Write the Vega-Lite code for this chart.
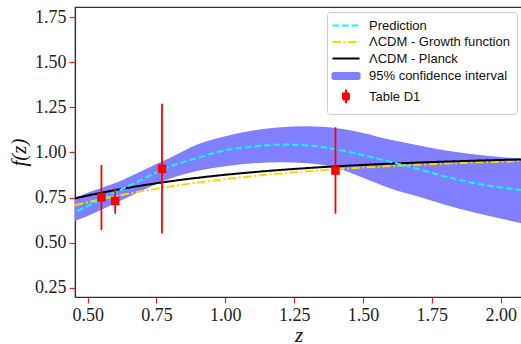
{
  "$schema": "https://vega.github.io/schema/vega-lite/v6.json",
  "width": 447,
  "height": 290,
  "autosize": {"type": "none"},
  "padding": {"left": 75, "top": 7, "right": 0, "bottom": 47},
  "config": {
    "view": {"stroke": "#333333", "strokeWidth": 1.2},
    "axis": {
      "grid": false,
      "domainColor": "#333333",
      "domainWidth": 1.2,
      "tickColor": "#ee2222",
      "tickSize": 6,
      "tickWidth": 1.2,
      "labelFont": "Liberation Serif",
      "labelFontSize": 18,
      "labelColor": "#222222",
      "labelPadding": 3,
      "titleFont": "Liberation Serif",
      "titleFontStyle": "italic",
      "titleFontWeight": "normal",
      "titleFontSize": 21,
      "titleColor": "#111111",
      "zindex": 1
    },
    "legend": {
      "title": null,
      "orient": "top-right",
      "offset": 5,
      "padding": 7,
      "fillColor": "white",
      "strokeColor": "#cccccc",
      "cornerRadius": 3,
      "labelFont": "Liberation Sans",
      "labelFontSize": 13,
      "labelColor": "#111111",
      "symbolSize": 100,
      "symbolStrokeWidth": 2,
      "symbolOpacity": 1,
      "symbolOffset": 5.5,
      "labelOffset": 16.5,
      "rowPadding": 2.5
    }
  },
  "datasets": {
    "curves": [
      {"z": 0.40, "pred": 0.628, "lo": 0.585, "hi": 0.722, "planck": 0.7254, "growth": 0.6858},
      {"z": 0.45, "pred": 0.666, "lo": 0.617, "hi": 0.747, "planck": 0.7437, "growth": 0.7053},
      {"z": 0.50, "pred": 0.703, "lo": 0.648, "hi": 0.776, "planck": 0.7607, "growth": 0.7235},
      {"z": 0.60, "pred": 0.778, "lo": 0.718, "hi": 0.830, "planck": 0.7912, "growth": 0.7567},
      {"z": 0.70, "pred": 0.852, "lo": 0.790, "hi": 0.900, "planck": 0.8174, "growth": 0.7857},
      {"z": 0.80, "pred": 0.922, "lo": 0.855, "hi": 0.970, "planck": 0.8400, "growth": 0.8110},
      {"z": 0.90, "pred": 0.970, "lo": 0.898, "hi": 1.045, "planck": 0.8595, "growth": 0.8329},
      {"z": 1.00, "pred": 1.012, "lo": 0.924, "hi": 1.090, "planck": 0.8762, "growth": 0.8520},
      {"z": 1.10, "pred": 1.032, "lo": 0.940, "hi": 1.122, "planck": 0.8904, "growth": 0.8686},
      {"z": 1.20, "pred": 1.044, "lo": 0.946, "hi": 1.140, "planck": 0.9029, "growth": 0.8830},
      {"z": 1.30, "pred": 1.039, "lo": 0.940, "hi": 1.145, "planck": 0.9136, "growth": 0.8955},
      {"z": 1.40, "pred": 1.018, "lo": 0.915, "hi": 1.135, "planck": 0.9228, "growth": 0.9065},
      {"z": 1.50, "pred": 0.985, "lo": 0.860, "hi": 1.108, "planck": 0.9308, "growth": 0.9160},
      {"z": 1.60, "pred": 0.948, "lo": 0.800, "hi": 1.070, "planck": 0.9379, "growth": 0.9243},
      {"z": 1.70, "pred": 0.908, "lo": 0.755, "hi": 1.040, "planck": 0.9440, "growth": 0.9317},
      {"z": 1.80, "pred": 0.866, "lo": 0.708, "hi": 1.011, "planck": 0.9494, "growth": 0.9381},
      {"z": 1.90, "pred": 0.831, "lo": 0.668, "hi": 0.990, "planck": 0.9541, "growth": 0.9438},
      {"z": 2.00, "pred": 0.806, "lo": 0.633, "hi": 0.975, "planck": 0.9583, "growth": 0.9489},
      {"z": 2.10, "pred": 0.788, "lo": 0.598, "hi": 0.963, "planck": 0.9620, "growth": 0.9533}
    ],
    "obs": [
      {"z": 0.55, "f": 0.75, "lo": 0.57, "hi": 0.93},
      {"z": 0.60, "f": 0.73, "lo": 0.66, "hi": 0.80},
      {"z": 0.77, "f": 0.91, "lo": 0.55, "hi": 1.27},
      {"z": 1.40, "f": 0.90, "lo": 0.66, "hi": 1.14}
    ]
  },
  "layer": [
    {
      "data": {"name": "curves"},
      "mark": {"type": "area", "interpolate": "monotone", "clip": true, "opacity": 1},
      "encoding": {
        "x": {
          "field": "z", "type": "quantitative",
          "scale": {"domain": [0.454, 2.0775], "nice": false, "zero": false},
          "axis": {"values": [0.5, 0.75, 1.0, 1.25, 1.5, 1.75, 2.0], "format": ".2f", "title": "z", "titleY": 44.5, "titleBaseline": "alphabetic"}
        },
        "y": {
          "field": "lo", "type": "quantitative",
          "scale": {"domain": [0.198, 1.807], "nice": false, "zero": false},
          "axis": {"values": [0.25, 0.5, 0.75, 1.0, 1.25, 1.5, 1.75], "format": ".2f", "title": "f(z)", "titlePadding": 5}
        },
        "y2": {"field": "hi"},
        "color": {
          "datum": "95% confidence interval",
          "type": "nominal",
          "scale": {
            "domain": ["Prediction", "ΛCDM - Growth function", "ΛCDM - Planck", "95% confidence interval", "Table D1"],
            "range": ["#00ffff", "#ffd700", "#000000", "#8080ff", "#ff0000"]
          }
        }
      }
    },
    {
      "data": {"name": "curves"},
      "mark": {"type": "line", "interpolate": "monotone", "clip": true, "strokeWidth": 2},
      "encoding": {
        "x": {"field": "z", "type": "quantitative"},
        "y": {"field": "growth", "type": "quantitative"},
        "color": {"datum": "ΛCDM - Growth function", "type": "nominal"},
        "strokeDash": {
          "datum": "ΛCDM - Growth function",
          "type": "nominal",
          "scale": {
            "domain": ["Prediction", "ΛCDM - Growth function", "ΛCDM - Planck", "95% confidence interval", "Table D1"],
            "range": [[6.5, 3], [8.5, 2.5, 2, 2.5], [1, 0], [1, 0], [1, 0]]
          }
        }
      }
    },
    {
      "data": {"name": "curves"},
      "mark": {"type": "line", "interpolate": "monotone", "clip": true, "strokeWidth": 2},
      "encoding": {
        "x": {"field": "z", "type": "quantitative"},
        "y": {"field": "planck", "type": "quantitative"},
        "color": {"datum": "ΛCDM - Planck", "type": "nominal"},
        "strokeDash": {"datum": "ΛCDM - Planck", "type": "nominal"}
      }
    },
    {
      "data": {"name": "curves"},
      "mark": {"type": "line", "interpolate": "monotone", "clip": true, "strokeWidth": 2},
      "encoding": {
        "x": {"field": "z", "type": "quantitative"},
        "y": {"field": "pred", "type": "quantitative"},
        "color": {"datum": "Prediction", "type": "nominal"},
        "strokeDash": {"datum": "Prediction", "type": "nominal"}
      }
    },
    {
      "data": {"name": "obs"},
      "mark": {"type": "rule", "strokeWidth": 1.8, "clip": true},
      "encoding": {
        "x": {"field": "z", "type": "quantitative"},
        "y": {"field": "lo", "type": "quantitative"},
        "y2": {"field": "hi"},
        "color": {"datum": "Table D1", "type": "nominal"}
      }
    },
    {
      "data": {"name": "obs"},
      "mark": {"type": "point", "size": 200, "filled": true, "opacity": 1, "clip": true},
      "encoding": {
        "x": {"field": "z", "type": "quantitative"},
        "y": {"field": "f", "type": "quantitative"},
        "color": {"datum": "Table D1", "type": "nominal"},
        "shape": {
          "datum": "Table D1",
          "type": "nominal",
          "scale": {
            "domain": ["Prediction", "ΛCDM - Growth function", "ΛCDM - Planck", "95% confidence interval", "Table D1"],
            "range": ["M-2.7,0H2.7", "M-2.7,0H2.7", "M-2.7,0H2.7", "M-2.7,-0.6H2.7V0.6H-2.7Z", "M-0.6,-0.6H0.6V0.6H-0.6Z M-0.02,-1.15H0.02V1.15H-0.02Z"]
          }
        }
      }
    }
  ]
}
